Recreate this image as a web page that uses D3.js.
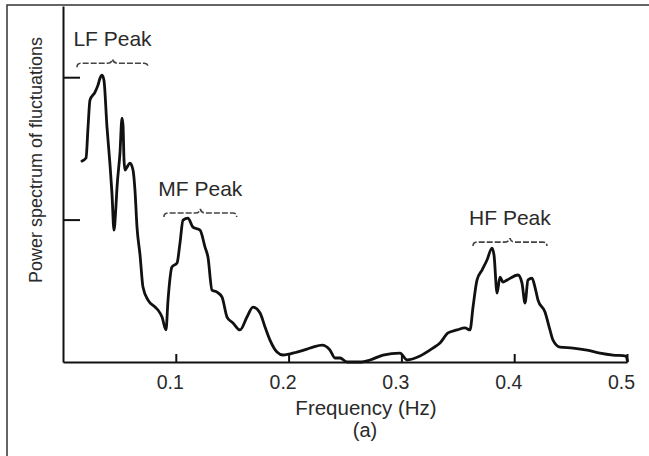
<!DOCTYPE html>
<html>
<head>
<meta charset="utf-8">
<script src="https://cdn.jsdelivr.net/npm/d3@7"></script>
<style>
  body { margin: 0; background: #fff; }
  text { font-family: "Liberation Sans", Arial, sans-serif; fill: #2a2a2a; }
  .curve { fill: none; stroke: #111; stroke-width: 2.8; stroke-linejoin: round; stroke-linecap: round; }
  .bracket { fill: none; stroke: #444; stroke-width: 1.6; stroke-dasharray: 6,2; }
</style>
</head>
<body>
<svg width="649" height="456"></svg>
<script>
// frequency (Hz) and power of the traced spectrum
var freq = [0.0168, 0.0204, 0.0222, 0.0239, 0.0284, 0.0310, 0.0328, 0.0346, 0.0363, 0.0390,
            0.0417, 0.0434, 0.0452, 0.0470, 0.0479, 0.0505, 0.0523, 0.0532, 0.0541, 0.0550,
            0.0567, 0.0594, 0.0621, 0.0638, 0.0656, 0.0683, 0.0709, 0.0754, 0.0816, 0.0842,
            0.0878, 0.0913, 0.0931, 0.0966, 0.1011, 0.1037, 0.1064, 0.1108, 0.1152, 0.1215,
            0.1259, 0.1285, 0.1321, 0.1365, 0.1410, 0.1454, 0.1507, 0.1569, 0.1631, 0.1684,
            0.1747, 0.1791, 0.1835, 0.1897, 0.1950, 0.2074, 0.2163, 0.2216, 0.2296, 0.2367,
            0.2411, 0.2456, 0.2518, 0.2633, 0.2722, 0.2837, 0.2988, 0.3050, 0.3165, 0.3280,
            0.3342, 0.3413, 0.3493, 0.3564, 0.3608, 0.3635, 0.3670, 0.3715, 0.3759, 0.3803,
            0.3821, 0.3848, 0.3874, 0.3901, 0.3936, 0.4034, 0.4069, 0.4096, 0.4122, 0.4158,
            0.4184, 0.4211, 0.4273, 0.4317, 0.4344, 0.4406, 0.4521, 0.4645, 0.4761, 0.4876,
            0.4991, 0.5004];
var power = [1.411, 1.432, 1.649, 1.839, 1.895, 1.944, 1.993, 2.014, 1.979, 1.649,
             1.382, 1.186, 0.926, 1.102, 1.228, 1.467, 1.712, 1.663, 1.418, 1.347,
             1.368, 1.396, 1.347, 1.207, 0.947, 0.751, 0.526, 0.435, 0.386, 0.365,
             0.316, 0.225, 0.435, 0.667, 0.695, 0.835, 0.996, 1.011, 0.947, 0.926,
             0.807, 0.737, 0.505, 0.491, 0.456, 0.316, 0.274, 0.225, 0.316, 0.386,
             0.344, 0.246, 0.154, 0.070, 0.049, 0.070, 0.091, 0.105, 0.119, 0.084,
             0.028, 0.028, 0.000, 0.000, 0.014, 0.049, 0.063, 0.014, 0.042, 0.098,
             0.133, 0.204, 0.225, 0.239, 0.225, 0.386, 0.575, 0.646, 0.716, 0.800,
             0.751, 0.484, 0.596, 0.561, 0.575, 0.611, 0.554, 0.414, 0.575, 0.589,
             0.526, 0.435, 0.351, 0.225, 0.154, 0.105, 0.098, 0.084, 0.063, 0.049,
             0.042, 0.007];

var xTicks = [0.1, 0.2, 0.3, 0.4, 0.5];
var yTicks = [1, 2];

// peak annotations: name, band start, band end, bracket level
var peakNames = ["LF Peak", "MF Peak", "HF Peak"];
var peakFrom  = [0.0124, 0.0895, 0.3635];
var peakTo    = [0.0754, 0.1540, 0.4290];
var peakLevel = [2.098, 1.046, 0.842];

var data = freq.map(function(f, i) { return {f: f, p: power[i]}; });

var svg = d3.select("svg");

var x = d3.scaleLinear().domain([0, 0.5]).range([63, 627]),
    y = d3.scaleLinear().domain([0, 2.5]).range([362, 6]);

// frame (top and left edges only)
svg.append("path")
    .attr("d", "M7,456V5H649")
    .attr("fill", "none")
    .attr("stroke", "#333")
    .attr("stroke-width", 1.5);

// x axis: ticks pointing up into the plot
var xAxis = svg.append("g")
    .attr("transform", "translate(0," + y(0) + ")")
    .call(d3.axisBottom(x).tickValues(xTicks).tickSizeInner(-8).tickSizeOuter(0).tickPadding(13)
          .tickFormat(d3.format(".1f")));
xAxis.select(".domain").attr("stroke", "#111").attr("stroke-width", 2);
xAxis.selectAll(".tick line").attr("stroke", "#111").attr("stroke-width", 2);
xAxis.selectAll(".tick text")
    .attr("dx", -6)
    .style("font-size", "19.5px")
    .style("font-family", "'Liberation Sans', Arial, sans-serif")
    .attr("fill", "#2a2a2a");

// y axis: unlabeled, ticks pointing right
var yAxis = svg.append("g")
    .attr("transform", "translate(" + x(0) + ",0)")
    .call(d3.axisLeft(y).tickValues(yTicks).tickSizeInner(-17).tickSizeOuter(0).tickFormat(""));
yAxis.select(".domain").attr("stroke", "#111").attr("stroke-width", 2);
yAxis.selectAll(".tick line").attr("stroke", "#111").attr("stroke-width", 2);

// spectrum
var line = d3.line()
    .curve(d3.curveMonotoneX)
    .x(function(d) { return x(d.f); })
    .y(function(d) { return y(d.p); });

svg.append("path")
    .attr("class", "curve")
    .attr("d", line(data));

// brackets + labels
peakNames.forEach(function(name, i) {
    var x1 = x(peakFrom[i]), x2 = x(peakTo[i]), yy = y(peakLevel[i]), cx = (x1 + x2) / 2;
    var p = d3.path();
    p.moveTo(x1, yy + 4);
    p.quadraticCurveTo(x1, yy, x1 + 4, yy);
    p.lineTo(cx - 5, yy);
    p.quadraticCurveTo(cx - 1, yy, cx, yy - 4);
    p.quadraticCurveTo(cx + 1, yy, cx + 5, yy);
    p.lineTo(x2 - 4, yy);
    p.quadraticCurveTo(x2, yy, x2, yy + 4);
    svg.append("path").attr("class", "bracket").attr("d", p.toString());

    svg.append("text")
        .attr("x", cx)
        .attr("y", yy - 17)
        .attr("text-anchor", "middle")
        .style("font-size", "21px")
        .text(name);
});

// axis titles
svg.append("text")
    .attr("transform", "translate(42,160) rotate(-90)")
    .attr("text-anchor", "middle")
    .style("font-size", "18px")
    .text("Power spectrum of fluctuations");

svg.append("text")
    .attr("x", 366)
    .attr("y", 415)
    .attr("text-anchor", "middle")
    .style("font-size", "20.5px")
    .text("Frequency (Hz)");

svg.append("text")
    .attr("x", 365)
    .attr("y", 437)
    .attr("text-anchor", "middle")
    .style("font-size", "20px")
    .text("(a)");
</script>
</body>
</html>
